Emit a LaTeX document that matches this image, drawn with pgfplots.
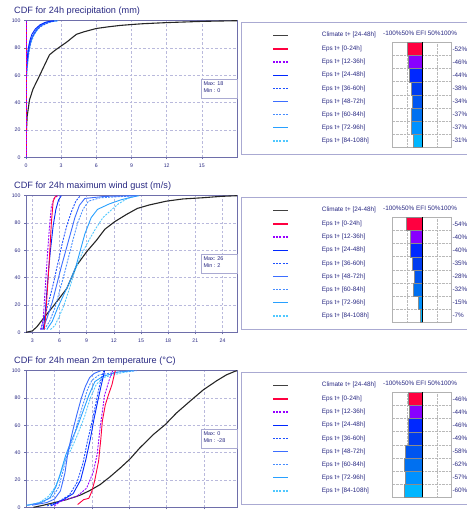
\documentclass[border=0pt]{standalone}
\usepackage{fontspec}
\setmainfont{Liberation Sans}
\usepackage{pgfplots}
\pgfplotsset{compat=1.18}
\definecolor{textc}{RGB}{40,40,130}
\definecolor{axisc}{RGB}{110,110,170}
\definecolor{gridc}{RGB}{185,185,220}
\definecolor{boxc}{RGB}{170,170,210}
\definecolor{epsred}{RGB}{255,0,64}
\definecolor{epspur}{RGB}{150,0,255}
\definecolor{epsblA}{RGB}{0,40,255}
\definecolor{epsblB}{RGB}{30,80,255}
\definecolor{epsblC}{RGB}{60,110,255}
\definecolor{epsblD}{RGB}{70,140,255}
\definecolor{epsblE}{RGB}{40,160,255}
\definecolor{epsblF}{RGB}{80,200,255}
\definecolor{barA}{RGB}{255,0,64}
\definecolor{barB}{RGB}{136,0,255}
\definecolor{barC}{RGB}{0,40,255}
\definecolor{barD}{RGB}{0,60,240}
\definecolor{barE}{RGB}{0,85,240}
\definecolor{barF}{RGB}{0,112,240}
\definecolor{barG}{RGB}{0,145,255}
\definecolor{barH}{RGB}{0,182,255}
\newcommand\tfont{\fontsize{9.2}{11}\selectfont}
\newcommand\lfont{\fontsize{6.4}{7}\selectfont}
\newcommand\kfont{\fontsize{5.2}{6}\selectfont}
\newcommand\mfont{\fontsize{5.5}{7.4}\selectfont}
\tikzset{
 epsA/.style={draw=epsred, line width=0.9bp},
 epsB/.style={draw=epspur, line width=0.9bp, dash pattern=on 2bp off 1.2bp},
 epsC/.style={draw=epsblA, line width=0.9bp},
 epsD/.style={draw=epsblB, line width=0.9bp, dash pattern=on 2bp off 1.2bp},
 epsE/.style={draw=epsblC, line width=0.9bp},
 epsF/.style={draw=epsblD, line width=0.9bp, dash pattern=on 2bp off 1.2bp},
 epsG/.style={draw=epsblE, line width=0.9bp},
 epsH/.style={draw=epsblF, line width=0.9bp, dash pattern=on 2bp off 1.2bp},
 clim/.style={draw=black!85, line width=1.1bp},
}
\pgfplotsset{
 cdf/.style={anchor=north west, width=211bp, height=136.6bp, scale only axis,
  ymin=0, ymax=100, ytick={0,20,...,100},
  grid=major, grid style={gridc, dash pattern=on 2.5bp off 2bp, line width=0.5bp},
  axis line style={axisc, line width=0.8bp},
  tick style={axisc, line width=0.6bp}, tick align=outside, major tick length=2bp,
  xtick pos=bottom, ytick pos=left,
  ticklabel style={font=\kfont, text=textc},
  xticklabel style={yshift=-1bp},
  /pgf/number format/assume math mode=true,
  no markers},
}
% EFI bar axis: #1 = vertical offset (bp), #2..#9 = EFI values
\newcommand{\efiaxis}[9]{%
\begin{axis}[at={(392.7bp,-42.3bp-#1bp)}, anchor=north west, width=59bp, height=105bp, scale only axis,
  xmin=-100, xmax=100, ymin=0.5, ymax=8.5, y dir=reverse,
  xtick={-50,50}, xticklabels={}, xmajorgrids=true,
  ytick={1,...,8}, yticklabels={#2\%,#3\%,#4\%,#5\%,#6\%,#7\%,#8\%,#9\%},
  yticklabel pos=right, yticklabel style={font=\lfont, text=textc, inner sep=0.6bp},
  minor ytick={1.5,2.5,...,7.5}, yminorgrids=true,
  major grid style={gray!55, densely dotted, line width=0.5bp},
  minor grid style={gray!55, densely dotted, line width=0.5bp},
  major tick length=0pt, minor tick length=0pt,
  axis line style={gray!60, line width=0.6bp},
  xbar, bar width=13.1bp, bar shift=0pt]
\addplot[fill=barA, draw=black!45, line width=0.3bp] coordinates {(#2,1)};
\addplot[fill=barB, draw=black!45, line width=0.3bp] coordinates {(#3,2)};
\addplot[fill=barC, draw=black!45, line width=0.3bp] coordinates {(#4,3)};
\addplot[fill=barD, draw=black!45, line width=0.3bp] coordinates {(#5,4)};
\addplot[fill=barE, draw=black!45, line width=0.3bp] coordinates {(#6,5)};
\addplot[fill=barF, draw=black!45, line width=0.3bp] coordinates {(#7,6)};
\addplot[fill=barG, draw=black!45, line width=0.3bp] coordinates {(#8,7)};
\addplot[fill=barH, draw=black!45, line width=0.3bp] coordinates {(#9,8)};
\draw[draw=black, line width=1.2bp] (axis cs:0,0.5) -- (axis cs:0,8.5);
\end{axis}}
\newcommand{\legrow}[3]{%
  \draw[#1, line width=1.3bp] (273bp,-#2bp) -- (288bp,-#2bp);
  \node[anchor=west, inner sep=0pt, font=\lfont, text=textc] at (321.7bp,-#2bp) {Eps t+ #3};}
% legend panel frame and entries: #1 = offset
\newcommand{\legpanel}[1]{%
\begin{scope}[yshift=-#1bp]
\draw[boxc, line width=0.8bp] (241.7bp,-22.7bp) rectangle (480bp,-154bp);
\draw[draw=black!75, line width=1.4bp] (273bp,-35.3bp) -- (288bp,-35.3bp);
\node[anchor=west, inner sep=0pt, font=\lfont, text=textc] at (321.7bp,-35.3bp) {Climate t+ [24-48h]};
\node[anchor=west, inner sep=0pt, font=\lfont, text=textc] at (383bp,-33bp) {-100\%50\% EFI 50\%100\%};
\legrow{epsA}{49}{[0-24h]}
\legrow{epsB}{62.1}{[12-36h]}
\legrow{epsC}{75.3}{[24-48h]}
\legrow{epsD}{88.4}{[36-60h]}
\legrow{epsE}{101.5}{[48-72h]}
\legrow{epsF}{114.6}{[60-84h]}
\legrow{epsG}{127.8}{[72-96h]}
\legrow{epsH}{140.9}{[84-108h]}
\end{scope}}
\newcommand{\mmbox}[3]{%
\begin{scope}[yshift=-#1bp]
\draw[boxc, fill=white, line width=0.6bp] (201bp,-79.3bp) rectangle (237.6bp,-98.3bp);
\node[anchor=west, inner sep=0pt, font=\mfont, text=textc] at (203.3bp,-83.3bp) {Max: #2};
\node[anchor=west, inner sep=0pt, font=\mfont, text=textc] at (203.3bp,-90.8bp) {Min : #3};
\end{scope}}
\begin{document}
\begin{tikzpicture}[x=1bp,y=1bp]
\path[use as bounding box] (0,0) rectangle (467,-516);
% ---------- Panel 1: precipitation ----------
\node[anchor=base west, inner sep=0pt, font=\tfont, text=textc] at (14,-13.5) {CDF for 24h precipitation (mm)};
\begin{axis}[cdf, at={(26bp,-20.7bp)}, xmin=0, xmax=18, xtick={0,3,...,15}]
\addplot[clim] coordinates {(0,0) (0.03,18) (0.1,30) (0.3,42) (0.6,50) (1.0,57) (1.5,66) (2.0,75) (2.5,78.5) (3.0,81.5) (3.5,84.5) (4.0,88) (4.3,90) (5,92) (6,94.3) (7,95.5) (8,96.5) (9,97.2) (10,97.8) (12,98.6) (15,99.5) (18,100)};
\addplot[epsH] coordinates {(0,0) (0,52) (0.1,64) (0.2,74) (0.4,83) (0.7,90) (1.0,94) (1.4,97) (2.0,99) (2.8,100)};
\addplot[epsG] coordinates {(0,0) (0,60) (0.15,74) (0.3,82) (0.55,88) (0.85,92) (1.2,96) (1.8,99) (2.6,100)};
\addplot[epsF] coordinates {(0,0) (0,65) (0.12,76) (0.3,84) (0.5,88) (0.75,92) (1.1,95) (1.6,98) (2.5,100)};
\addplot[epsE] coordinates {(0,0) (0,55) (0.1,66) (0.25,78) (0.45,86) (0.7,91) (1.0,95) (1.5,98) (2.2,100)};
\addplot[epsD] coordinates {(0,0) (0,58) (0.08,68) (0.2,77) (0.4,85) (0.6,89) (0.9,93) (1.3,96) (2.0,99) (2.7,100)};
\addplot[epsC] coordinates {(0,0) (0,62) (0.1,72) (0.2,80) (0.35,86) (0.5,90) (0.8,94) (1.2,97) (1.7,99) (2.4,100)};
\addplot[epsA, line width=1.2bp] coordinates {(0,0) (0,100)};
\addplot[epsB, line width=1.2bp] coordinates {(0,0) (0,100)};
\end{axis}
\mmbox{0}{18}{0}
\legpanel{0}
\efiaxis{0}{-52}{-46}{-44}{-38}{-34}{-37}{-37}{-31}
% ---------- Panel 2: wind gust ----------
\node[anchor=base west, inner sep=0pt, font=\tfont, text=textc] at (14,-188.5) {CDF for 24h maximum wind gust (m/s)};
\begin{axis}[cdf, at={(26bp,-195.7bp)}, xmin=2.3, xmax=25.6, xtick={3,6,...,24}]
\addplot[clim] coordinates {(2.3,0) (3,1) (3.5,4) (4.2,10) (5.3,19) (6.8,32) (7.9,49) (9,59) (10.1,67.5) (11,75.4) (12.1,81) (13.4,86.3) (14.6,90.7) (15.9,93.2) (17.8,96) (19.6,97.6) (21.8,98.5) (23.8,99.5) (25.6,100)};
\addplot[epsH] coordinates {(5.0,2) (5.5,5) (6.0,12) (6.5,20) (7.0,30) (7.7,45) (8.5,58) (9.3,68) (10,76) (10.8,84) (11.8,90) (12.5,94) (13.5,98) (14.6,100)};
\addplot[epsG] coordinates {(4.6,2) (5.2,8) (5.8,18) (6.5,28) (7.0,35) (7.8,48) (8.3,60) (8.8,72) (9.5,84) (10.2,90) (11.5,94) (12.8,97) (14.0,99) (14.8,100)};
\addplot[epsF] coordinates {(4.3,2) (4.9,8) (5.5,18) (6.0,30) (6.5,42) (7.0,55) (7.5,68) (8.0,80) (8.6,90) (9.2,96) (10.5,98.5) (14.5,100)};
\addplot[epsE] coordinates {(4.1,2) (4.6,10) (5.2,22) (5.7,35) (6.2,48) (6.7,60) (7.2,72) (7.7,84) (8.2,93) (8.8,98) (11,99.5) (14.5,100)};
\addplot[epsD] coordinates {(3.9,2) (4.3,10) (4.8,22) (5.3,35) (5.8,50) (6.3,65) (6.8,78) (7.3,88) (7.8,96) (8.3,100)};
\addplot[epsC] coordinates {(4.2,2) (4.4,12) (4.6,30) (4.8,46) (5.0,60) (5.3,78) (5.6,90) (5.9,97) (6.2,100)};
\addplot[epsB] coordinates {(4.0,2) (4.2,10) (4.4,30) (4.55,45) (4.7,60) (4.9,78) (5.1,92) (5.4,98) (5.8,100)};
\addplot[epsA] coordinates {(4.3,2) (4.45,10) (4.6,25) (4.8,45) (4.95,62) (5.1,80) (5.3,96) (5.5,99) (5.7,100)};
\end{axis}
\mmbox{175}{26}{2}
\legpanel{175}
\efiaxis{175}{-54}{-40}{-40}{-35}{-28}{-32}{-15}{-7}
% ---------- Panel 3: temperature ----------
\node[anchor=base west, inner sep=0pt, font=\tfont, text=textc] at (14,-363.5) {CDF for 24h mean 2m temperature (°C)};
\begin{axis}[cdf, at={(26bp,-370.7bp)}, xmin=-28.8, xmax=-0.6, xtick={-25,-20,...,-5}, xticklabels={}]
\addplot[clim] coordinates {(-27.8,0) (-26.5,1.5) (-25.2,3.2) (-23.4,5.6) (-21.6,8.8) (-20.3,12.2) (-18.9,16.6) (-17.6,22.2) (-16.2,28.8) (-14.9,35.4) (-13.6,43.4) (-11.8,53.2) (-10.2,60.5) (-8.7,69) (-6.9,77.6) (-5.1,86) (-3.3,92.7) (-2.0,97) (-0.9,99.5) (-0.6,100)};
\addplot[epsH] coordinates {(-28.7,1.5) (-27,3.5) (-25.8,8) (-25,14) (-24.3,22) (-23.6,35) (-22.8,42) (-22.0,52) (-21.0,66) (-20.2,80) (-19.4,90) (-18.5,95) (-16,98.5) (-14.2,100)};
\addplot[epsG] coordinates {(-28.7,1.5) (-27,3) (-25.6,7) (-24.8,15) (-24.2,25) (-23.5,38) (-22.8,48) (-22.0,58) (-21.2,70) (-20.4,82) (-19.6,92) (-18.5,96) (-16.5,99) (-14.5,100)};
\addplot[epsF] coordinates {(-28.5,1.5) (-26.5,4) (-25.2,8) (-24.4,15) (-23.8,28) (-23.2,40) (-22.5,50) (-21.9,62) (-21.2,75) (-20.6,86) (-20.0,93) (-19,97) (-16,99.5) (-14,100)};
\addplot[epsE] coordinates {(-28,1.5) (-26,3.5) (-25,6) (-24.2,12) (-23.6,25) (-23.2,40) (-22.6,55) (-22.0,68) (-21.4,80) (-20.9,88) (-20.3,95) (-19.7,98) (-18.8,100)};
\addplot[epsD] coordinates {(-26,1) (-24.5,4) (-23,9) (-22,18) (-21.2,32) (-20.6,48) (-20,62) (-19.5,75) (-19.1,86) (-18.7,95) (-18.4,100)};
\addplot[epsC] coordinates {(-25.5,1) (-24,5) (-22.5,10) (-21.5,20) (-20.8,35) (-20.2,50) (-19.7,65) (-19.2,78) (-18.8,88) (-18.5,95) (-18.3,100)};
\addplot[epsB] coordinates {(-25,1) (-24.2,4.4) (-22.0,8) (-20.7,14) (-19.8,26) (-19.3,38.5) (-18.9,58) (-18.3,82) (-17.6,94.6) (-17.2,100)};
\addplot[epsA] coordinates {(-21.9,2) (-21.1,5.6) (-20.4,6.6) (-20.0,11.7) (-19.6,20) (-19.1,33.7) (-18.8,50) (-18.6,63) (-18.2,75) (-17.8,82) (-17.3,90) (-16.9,99.5) (-16.8,100)};
\end{axis}
\mmbox{350}{0}{-28}
\legpanel{350}
\efiaxis{350}{-46}{-44}{-46}{-49}{-58}{-62}{-57}{-60}
\end{tikzpicture}
\end{document}
